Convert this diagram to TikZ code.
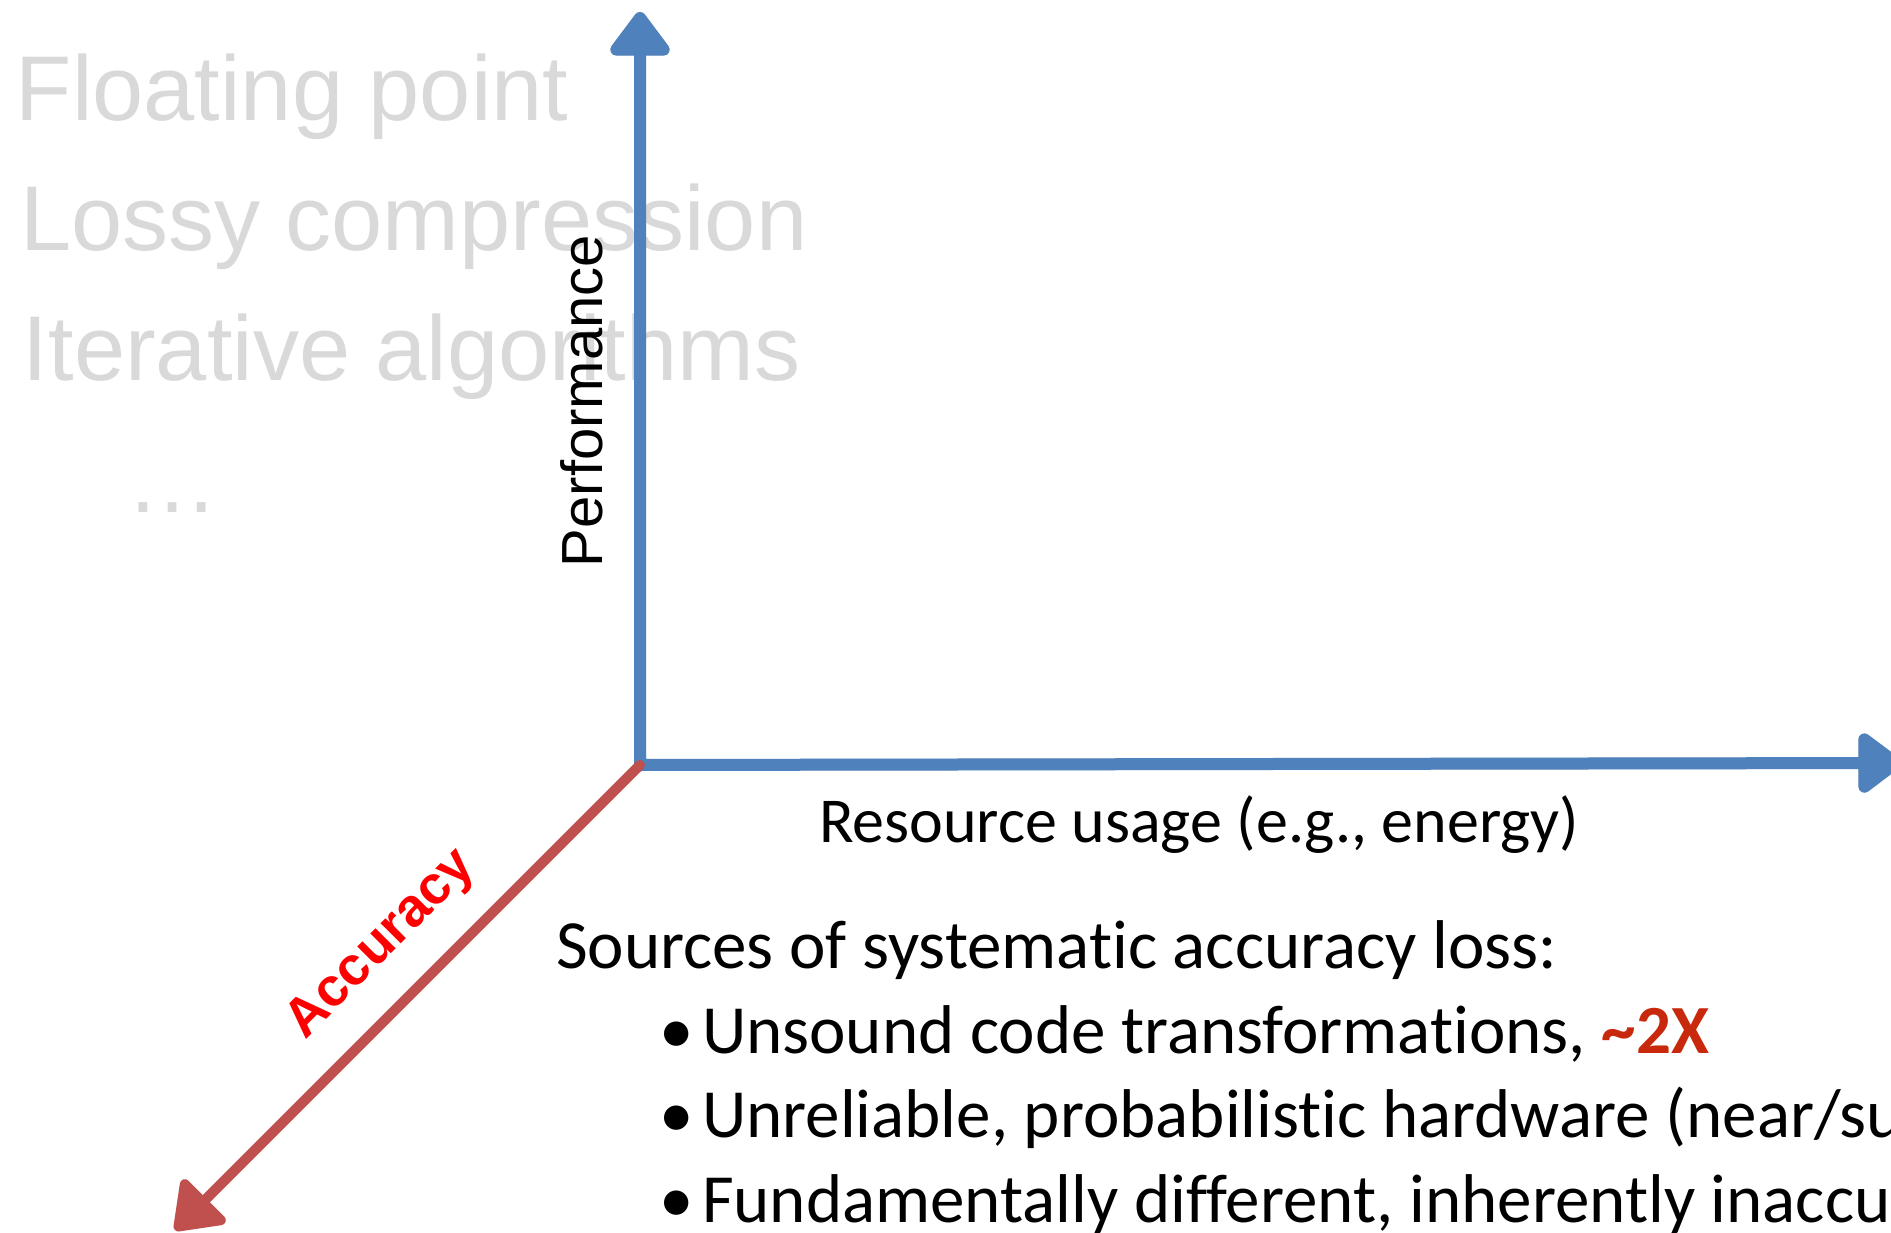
\documentclass[tikz,border=0pt]{standalone}
\usepackage{fontspec}
\setmainfont{Carlito}[Ligatures={NoCommon,NoRequired,NoContextual}]
\newfontfamily\arialf{Liberation Sans}
\usetikzlibrary{arrows.meta}
\definecolor{axblue}{HTML}{4F81BD}
\definecolor{axred}{HTML}{C0504D}
\definecolor{ltgray}{HTML}{D9D9D9}
\definecolor{accred}{HTML}{FF0000}
\definecolor{twoxred}{HTML}{C8290C}
\tikzset{
  graytext/.style={anchor=base west, font=\arialf\fontsize{92}{100}\selectfont, text=ltgray},
  bodytext/.style={anchor=base west, font=\fontsize{69}{80}\selectfont},
  axisline/.style={line width=12pt, line join=round, line cap=round},
  axtip/.style={-{Triangle[length=48pt,width=68pt,round]}},
  bothtips/.style={{Triangle[length=48pt,width=68pt,round]}-{Triangle[length=48pt,width=68pt,round]}},
  shadowline/.style={black, opacity=0.12}
}
\begin{document}
\begin{tikzpicture}[x=1pt,y=-1pt, every node/.style={inner sep=0pt, outer sep=0pt}]
\useasboundingbox (0,0) rectangle (1891,1233);
\clip (0,0) rectangle (1891,1233);
\fill[white] (0,0) rectangle (1891,1233);
% grey list
\node[graytext] (fp) at (16,121) {Floating point};
\node[graytext] (lc) at (20,251) {Lossy compression};
\node[graytext] (ia) at (23,381) {Iterative algorithms};
\node[graytext] (dots) at (126,512) {…};
% axes
\coordinate (O) at (640,765);
\coordinate (ytip) at (640,12);
\coordinate (xtip) at (1902,763);
\coordinate (ztip) at (175,1230);
\draw[axisline, shadowline, bothtips, shift={(3,4)}] (ytip) -- (O) -- (xtip);
\draw[axisline, axblue, bothtips] (ytip) -- (O) -- (xtip);
\draw[axisline, shadowline, axtip, line width=10pt, shift={(3,4)}] (O) -- (ztip);
\draw[axisline, axred, axtip, line width=10pt] (O) -- (ztip);
% axis labels
\node[rotate=90, anchor=base west, font=\arialf\fontsize{58}{60}\selectfont] (perf) at (602,567) {Performance};
\node[rotate=45, anchor=base west, font=\arialf\bfseries\fontsize{54}{58}\selectfont, text=accred] (acc) at (305,1040) {Accuracy};
\node[anchor=base west, font=\fontsize{64}{70}\selectfont] (res) at (819,842) {Resource usage (e.g., energy)};
% sources
\node[bodytext] (src) at (556,968) {Sources of systematic accuracy loss:};
\node[bodytext] (b1) at (659,1053) {•};
\node[bodytext] (t1) at (702,1053) {Unsound code transformations, \textcolor{twoxred}{\bfseries\textasciitilde2X}};
\node[bodytext] (b2) at (659,1137) {•};
\node[bodytext] (t2) at (702,1137) {Unreliable, probabilistic hardware (near/subthreshold)};
\node[bodytext] (b3) at (659,1222) {•};
\node[bodytext] (t3) at (702,1222) {Fundamentally different, inherently inaccurate hardware};
\end{tikzpicture}
\end{document}
